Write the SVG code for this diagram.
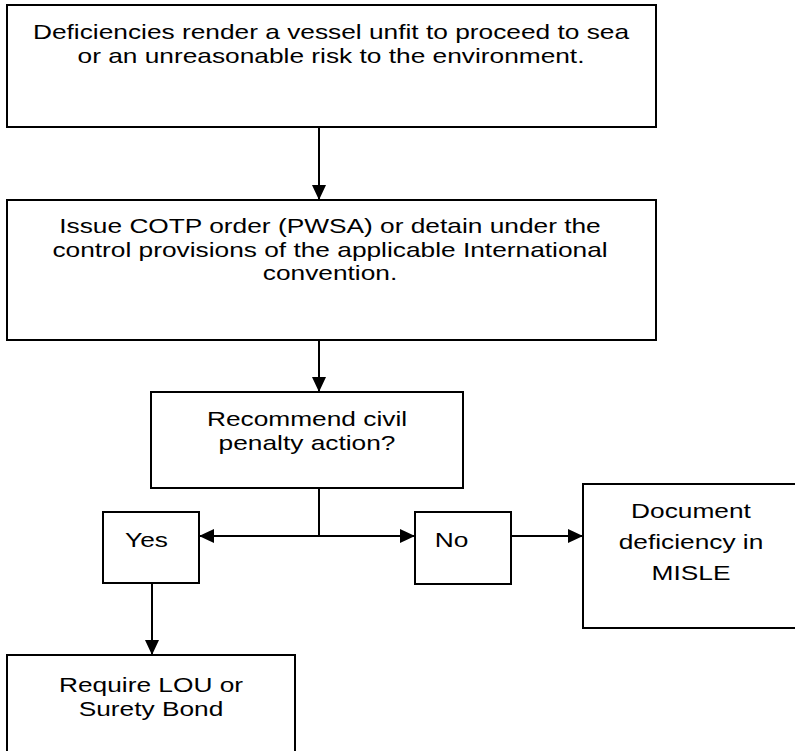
<svg xmlns="http://www.w3.org/2000/svg" width="795" height="751" viewBox="0 0 795 751">
<defs>
<style>
.box{fill:#ffffff;stroke:#000000;stroke-width:2}
.t{font-family:"Liberation Sans",Arial,sans-serif;font-size:20.5px;fill:#000000;text-anchor:middle}
.c{stroke:#000000;stroke-width:2;fill:none}
.a{marker-end:url(#ah)}
.b{marker-start:url(#ahs);marker-end:url(#ah)}
</style>
<marker id="ah" markerUnits="userSpaceOnUse" markerWidth="16" markerHeight="15" refX="15" refY="7" orient="auto">
<path d="M0,0 L15,7 L0,14 Z" fill="#000000"/>
</marker>
<marker id="ahs" markerUnits="userSpaceOnUse" markerWidth="16" markerHeight="15" refX="0" refY="7" orient="auto">
<path d="M15,0 L0,7 L15,14 Z" fill="#000000"/>
</marker>
</defs>
<rect width="795" height="751" fill="#ffffff"/>
<g id="connectors">
<line class="c a" x1="319" y1="127" x2="319" y2="200"/>
<line class="c a" x1="319" y1="340" x2="319" y2="392"/>
<line class="c" x1="319" y1="488" x2="319" y2="536"/>
<line class="c b" x1="199" y1="536" x2="415" y2="536"/>
<line class="c a" x1="511" y1="536" x2="583" y2="536"/>
<line class="c a" x1="152" y1="583" x2="152" y2="655"/>
</g>
<g id="n1">
<rect class="box" x="7" y="5" width="649" height="122"/>
<g transform="translate(331,0) scale(1.283,1)">
<text class="t" x="0" y="39.2"><tspan x="0" y="39.2">Deficiencies render a vessel unfit to proceed to sea</tspan><tspan x="0" y="62.8">or an unreasonable risk to the environment.</tspan></text>
</g>
</g>
<g id="n2">
<rect class="box" x="7" y="200" width="649" height="140"/>
<g transform="translate(330,0) scale(1.283,1)">
<text class="t" x="0" y="233.1"><tspan x="0" y="233.1">Issue COTP order (PWSA) or detain under the</tspan><tspan x="0" y="256.7">control provisions of the applicable International</tspan><tspan x="0" y="280.3">convention.</tspan></text>
</g>
</g>
<g id="n3">
<rect class="box" x="151" y="392" width="312" height="96"/>
<g transform="translate(307,0) scale(1.283,1)">
<text class="t" x="0" y="426.2"><tspan x="0" y="426.2">Recommend civil</tspan><tspan x="0" y="449.8">penalty action?</tspan></text>
</g>
</g>
<g id="yes">
<rect class="box" x="103" y="512" width="96" height="71"/>
<g transform="translate(146.5,0) scale(1.283,1)">
<text class="t" x="0" y="547">Yes</text>
</g>
</g>
<g id="no">
<rect class="box" x="415" y="512" width="96" height="72"/>
<g transform="translate(451.5,0) scale(1.283,1)">
<text class="t" x="0" y="547">No</text>
</g>
</g>
<g id="doc">
<rect class="box" x="583" y="484" width="215" height="144"/>
<g transform="translate(691,0) scale(1.283,1)">
<text class="t" x="0" y="518"><tspan x="0" y="518">Document</tspan><tspan x="0" y="549">deficiency in</tspan><tspan x="0" y="580">MISLE</tspan></text>
</g>
</g>
<g id="lou">
<rect class="box" x="7" y="655" width="288" height="110"/>
<g transform="translate(151,0) scale(1.283,1)">
<text class="t" x="0" y="692.2"><tspan x="0" y="692.2">Require LOU or</tspan><tspan x="0" y="715.8">Surety Bond</tspan></text>
</g>
</g>
</svg>
